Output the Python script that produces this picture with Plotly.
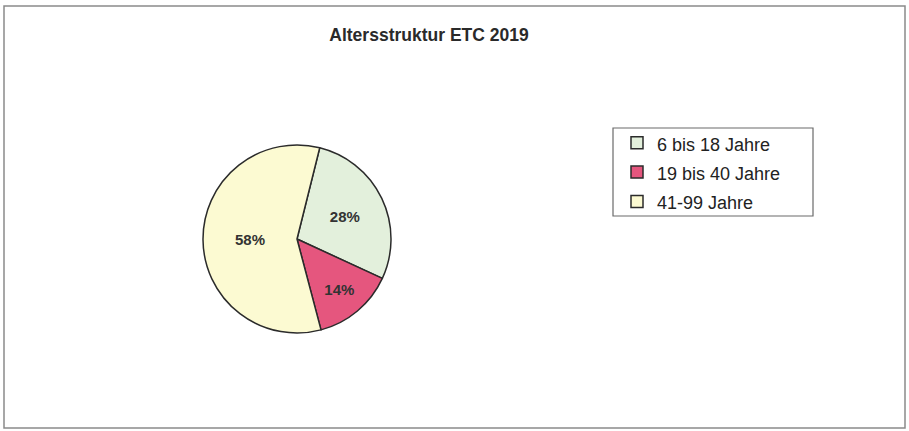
import plotly.graph_objects as go

W, H = 909, 431

categories = ["6 bis 18 Jahre", "19 bis 40 Jahre", "41-99 Jahre"]
shares = [28, 14, 58]
slice_colors = ["#E3F0DC", "#E5567E", "#FCFAD2"]
title_text = "Altersstruktur ETC 2019"

def px_x(x):
    return x / W

def px_y(y):
    return (H - y) / H

cx, cy, r = 297, 239, 94
FONT = "Liberation Sans, Arial, sans-serif"

legend_labels = ['<span style="font-size:18px">%s</span>' % c for c in categories]

fig = go.Figure(go.Pie(
    labels=legend_labels,
    values=shares,
    customdata=categories,
    sort=False,
    direction="clockwise",
    rotation=14,
    marker=dict(colors=slice_colors, line=dict(color="#2b2b2b", width=1.5)),
    texttemplate="%{percent:.0%}",
    textposition="inside",
    insidetextorientation="horizontal",
    textfont=dict(family=FONT, size=15, color="#333333", weight="bold"),
    domain=dict(x=[px_x(cx - r), px_x(cx + r)], y=[px_y(cy + r), px_y(cy - r)]),
    hovertemplate="%{customdata}: %{percent:.0%}<extra></extra>",
))

fig.update_layout(
    width=W, height=H,
    margin=dict(l=0, r=0, t=0, b=0),
    paper_bgcolor="white",
    plot_bgcolor="white",
    title=dict(
        text=title_text,
        x=px_x(429), xanchor="center",
        y=px_y(35), yanchor="middle",
        font=dict(family=FONT, size=17.5, color="#2a2a2a", weight="bold"),
    ),
    legend=dict(
        x=px_x(617), xanchor="left",
        y=px_y(123), yanchor="top",
        borderwidth=0,
        bgcolor="rgba(0,0,0,0)",
        font=dict(family=FONT, size=20.3, color="#222222"),
        itemwidth=30,
    ),
    shapes=[
        dict(type="rect", xref="paper", yref="paper",
             x0=px_x(4), x1=px_x(905), y0=px_y(428), y1=px_y(6),
             line=dict(color="#8a8a8a", width=1.5)),
        dict(type="rect", xref="paper", yref="paper",
             x0=px_x(613), x1=px_x(813), y0=px_y(216), y1=px_y(128),
             line=dict(color="#6a6a6a", width=1.2)),
    ],
)

fig.write_html("out.html", config={"displayModeBar": False},
               post_script="document.body.style.margin='0';")
